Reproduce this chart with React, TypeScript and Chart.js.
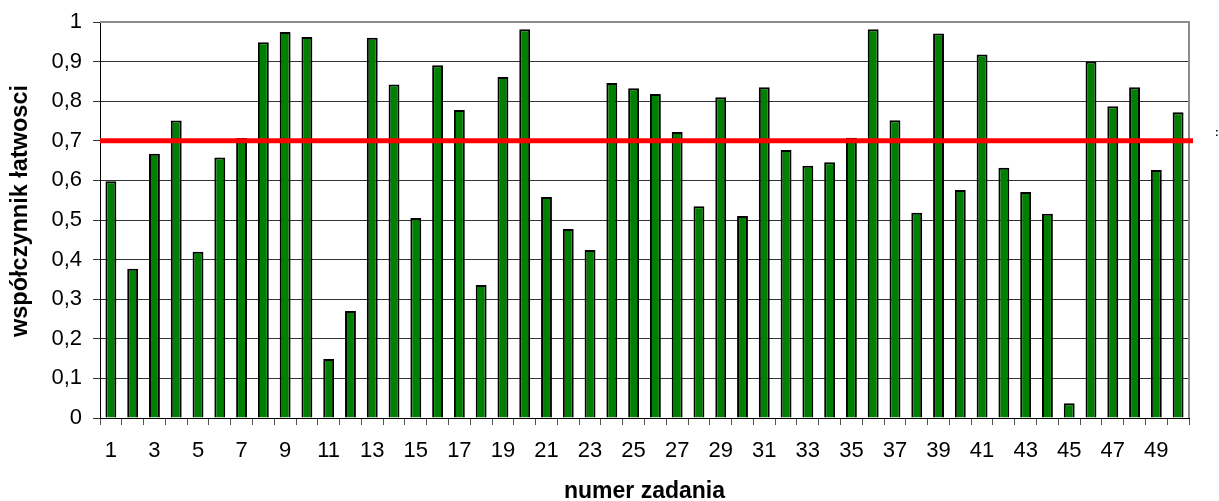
import React, { useEffect, useRef } from "react";
import { Chart, registerables } from "chart.js";

Chart.register(...registerables);

const categories: string[] = Array.from({ length: 50 }, (_, i) => String(i + 1));
const values: number[] = [
  0.598, 0.377, 0.667, 0.751, 0.42, 0.658, 0.707, 0.949, 0.975, 0.962,
  0.149, 0.27, 0.96, 0.842, 0.505, 0.891, 0.778, 0.336, 0.861, 0.982,
  0.558, 0.477, 0.424, 0.846, 0.833, 0.818, 0.722, 0.535, 0.81, 0.51,
  0.835, 0.677, 0.637, 0.646, 0.708, 0.982, 0.752, 0.518, 0.971, 0.576,
  0.918, 0.632, 0.571, 0.516, 0.037, 0.9, 0.787, 0.835, 0.626, 0.772,
];
const threshold: number[] = [0.7];
const yTickLabels: string[] = ["0", "0,1", "0,2", "0,3", "0,4", "0,5", "0,6", "0,7", "0,8", "0,9", "1"];
const xTitle = "numer zadania";
const yTitle = "współczynnik łatwosci";
const FONT = "'Liberation Sans', Arial, sans-serif";

const overlayPlugin = {
  id: "overlay",
  beforeDatasetsDraw(chart: any) {
    const { ctx, chartArea } = chart;
    ctx.save();
    ctx.strokeStyle = "#8c8c8c";
    ctx.lineWidth = 2;
    ctx.beginPath();
    ctx.moveTo(chartArea.left, chartArea.top);
    ctx.lineTo(chartArea.right, chartArea.top);
    ctx.lineTo(chartArea.right, chartArea.bottom);
    ctx.stroke();
    ctx.restore();
  },
  afterDatasetsDraw(chart: any) {
    const { ctx, chartArea, scales } = chart;
    const y = scales.y.getPixelForValue(threshold[0]);
    ctx.save();
    ctx.strokeStyle = "#ff0000";
    ctx.lineWidth = 5;
    ctx.beginPath();
    ctx.moveTo(chartArea.left, y);
    ctx.lineTo(chartArea.right + 4, y);
    ctx.stroke();
    ctx.fillStyle = "#000";
    ctx.font = `bold 11px ${FONT}`;
    ctx.textAlign = "left";
    ctx.textBaseline = "middle";
    ctx.fillText(":", 1215, y - 8);
    // y axis title
    ctx.translate(21, 211);
    ctx.rotate(-Math.PI / 2);
    ctx.font = `bold 23.5px ${FONT}`;
    ctx.textAlign = "center";
    ctx.textBaseline = "middle";
    ctx.fillText(yTitle, 0, 0);
    ctx.restore();
  },
};

export default function App() {
  const ref = useRef<HTMLCanvasElement | null>(null);
  useEffect(() => {
    if (!ref.current) return;
    const chart = new Chart(ref.current, {
      type: "bar",
      data: {
        labels: categories,
        datasets: [
          {
            data: values,
            backgroundColor: "#008000",
            borderColor: "#000000",
            borderWidth: 2,
            barPercentage: 0.5,
            categoryPercentage: 1,
          },
        ],
      },
      options: {
        responsive: false,
        animation: false,
        layout: { padding: { top: 22, right: 30, left: 0, bottom: 0 } },
        plugins: { legend: { display: false }, tooltip: { enabled: false } },
        scales: {
          x: {
            type: "category",
            offset: true,
            grid: {
              display: true,
              drawOnChartArea: false,
              drawTicks: true,
              tickLength: 7,
              offset: true,
              color: "#555",
            },
            border: { color: "#000", width: 1 },
            ticks: {
              autoSkip: false,
              maxRotation: 0,
              minRotation: 0,
              color: "#000",
              padding: 13,
              font: { family: FONT, size: 22 },
              callback: (_v: any, i: number) => (i % 2 === 0 ? categories[i] : ""),
            },
            title: {
              display: true,
              text: xTitle,
              color: "#000",
              font: { family: FONT, size: 23, weight: "bold", lineHeight: 0.8 },
              padding: { top: 0, bottom: 0 },
            },
            afterFit: (s: any) => {
              s.height = 83;
              s.paddingTop = 0;
              s.paddingBottom = 0;
            },
          },
          y: {
            min: 0,
            max: 1,
            ticks: {
              stepSize: 0.1,
              color: "#000",
              padding: 11,
              font: { family: FONT, size: 22 },
              callback: (_v: any, i: number) => yTickLabels[i],
            },
            grid: { color: "#333", tickLength: 7, lineWidth: 1 },
            border: { color: "#000", width: 1 },
            title: { display: false },
            afterFit: (s: any) => {
              s.width = 100;
              s.paddingTop = 0;
              s.paddingBottom = 0;
            },
          },
        },
      },
      plugins: [overlayPlugin],
    });
    return () => chart.destroy();
  }, []);
  return (
    <div style={{ position: "fixed", left: 0, top: 0, width: 1219, height: 501, background: "#fff" }}>
      <canvas ref={ref} width={1219} height={501} />
    </div>
  );
}
